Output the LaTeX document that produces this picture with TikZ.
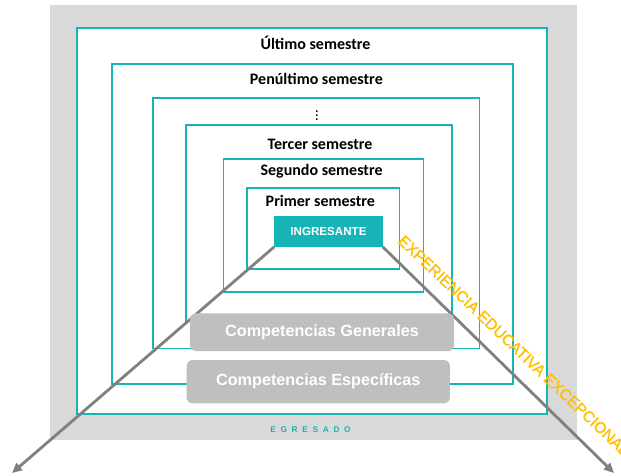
\documentclass[tikz,border=0pt]{standalone}
\usepackage{fontspec}
\newfontfamily\calfont{Carlito}
\newfontfamily\arifont{Liberation Sans}
\newfontfamily\expfont[FakeBold=1.3]{Liberation Sans}
\usetikzlibrary{arrows.meta}
\definecolor{tealc}{RGB}{23,180,183}
\definecolor{bggray}{RGB}{217,217,217}
\definecolor{compgray}{RGB}{191,191,191}
\definecolor{arrowgray}{RGB}{128,128,128}
\definecolor{orangec}{RGB}{255,192,0}
\newcommand{\ls}{\hspace{4.7pt}}
\begin{document}
\begin{tikzpicture}[x=1pt,y=-1pt,
  sembox/.style={draw=tealc, line width=1.7pt, fill=white},
  semlabel/.style={font=\calfont\bfseries\fontsize{16}{16}\selectfont, text=black, inner sep=0pt},
  compbox/.style={fill=compgray, rounded corners=6pt, inner sep=0pt, text=white,
    font=\arifont\bfseries\fontsize{16.2}{16.2}\selectfont},
  arr/.style={draw=arrowgray, line width=2.8pt, -{Triangle[length=10pt,width=9pt]}}
]
\useasboundingbox (0,0) rectangle (621,476);
% background
\fill[bggray] (50,5.5) rectangle (577,439.5);
% semester frames
\path[sembox] (77.2,27.7) rectangle (547.3,414.3);
\path[sembox] (112,63.7) rectangle (513.3,384.3);
\path[sembox] (153.3,97.7) rectangle (479.6,348.5);
\path[sembox] (185.7,125) rectangle (452.3,321);
\path[sembox] (223.4,159) rectangle (423.4,291.7);
\path[sembox] (246.7,188) rectangle (399.6,269.3);
% labels
\node[semlabel] (ult) at (315.5,43.3) {Último semestre};
\node[semlabel] (pen) at (316.4,79.3) {Penúltimo semestre};
\node[semlabel] (dots) at (317,113) {\textbf{\arifont\fontsize{11}{11}\selectfont\vdots}};
\node[semlabel] (ter) at (320,144) {Tercer semestre};
\node[semlabel] (seg) at (321.6,171) {Segundo semestre};
\node[semlabel] (pri) at (320.4,201) {Primer semestre};
% ingresante
\node[fill=tealc, minimum width=108.1pt, minimum height=30.7pt, inner sep=0pt, text=white,
  font=\arifont\bfseries\fontsize{11.6}{11.6}\selectfont] (ing) at (328.5,231.3) {INGRESANTE};
% arrows
\coordinate (lt) at (12,473);
\coordinate (rt) at (614,473);
\draw[arr] (ing.south west) -- (lt);
\draw[arr] (ing.south east) -- (rt);
% competencias
\node[compbox, minimum width=264pt, minimum height=37.7pt] (cg) at (322,332.2) {Competencias Generales};
\node[compbox, minimum width=263.3pt, minimum height=43.3pt] (ce) at (318.3,381.7) {Competencias Específicas};
% egresado
\node[text=tealc, inner sep=0pt, font=\arifont\bfseries\fontsize{8.3}{8.3}\selectfont] (egr) at (310.5,429.3)
  {E\ls G\ls R\ls E\ls S\ls A\ls D\ls O};
% experiencia
\node[rotate=-43.5, anchor=base west, inner sep=0pt, text=orangec,
  font=\expfont\fontsize{15.6}{15.6}\selectfont] (exp) at (397,242) {EXPERIENCIA EDUCATIVA EXCEPCIONAL};
\end{tikzpicture}
\end{document}
